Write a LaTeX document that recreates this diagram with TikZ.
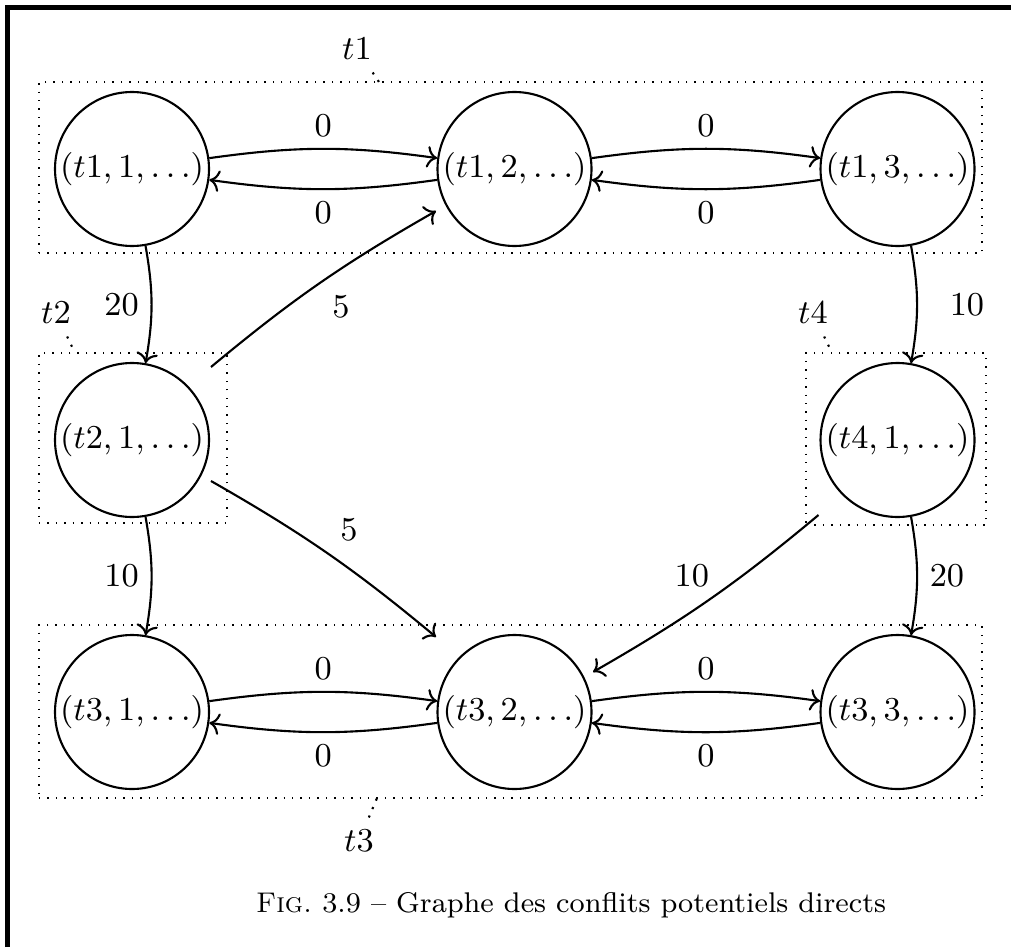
\RequirePackage{fix-cm}
\documentclass[tikz,border=0pt]{standalone}
\usepackage{amsmath,amssymb}
\usepackage{tikz}
\usetikzlibrary{arrows.meta}

\begin{document}
\begin{tikzpicture}[auto, semithick, font=\fontsize{9.5}{11.4}\selectfont]
    \tikzstyle{node_style} = [circle,draw=black,minimum size=1.54cm,inner sep=0pt]
    \tikzstyle{group_style} = [rectangle,draw=black,dotted,thin,inner sep=0pt]
    \tikzstyle{edge_style} = [draw=black,->,semithick]
    \tikzstyle{pin_style} = [draw=black,dotted,semithick]
    \useasboundingbox (0,0) rectangle (10.11,-9.47);
    \draw[line width=1.2pt] (0.075,-9.47) -- (0.075,-0.075) -- (10.11,-0.075);

    % groups
    \node[group_style, minimum width=9.43cm, minimum height=1.71cm] (g1) at (5.105,-1.675) {};
    \node[group_style, minimum width=1.88cm, minimum height=1.70cm] (g2) at (1.33,-4.38) {};
    \node[group_style, minimum width=1.80cm, minimum height=1.72cm] (g4) at (8.96,-4.39) {};
    \node[group_style, minimum width=9.43cm, minimum height=1.73cm] (g3) at (5.105,-7.115) {};

    \node[node_style] (n11) at (1.32,-1.69) {$(t1,1,\ldots)$};
    \node[node_style] (n12) at (5.145,-1.69) {$(t1,2,\ldots)$};
    \node[node_style] (n13) at (8.975,-1.69) {$(t1,3,\ldots)$};
    \node[node_style] (n21) at (1.32,-4.40) {$(t2,1,\ldots)$};
    \node[node_style] (n41) at (8.975,-4.40) {$(t4,1,\ldots)$};
    \node[node_style] (n31) at (1.32,-7.12) {$(t3,1,\ldots)$};
    \node[node_style] (n32) at (5.145,-7.12) {$(t3,2,\ldots)$};
    \node[node_style] (n33) at (8.975,-7.12) {$(t3,3,\ldots)$};

    \node (l1) at (3.57,-0.49) {$t1$};
    \node (l2) at (0.56,-3.13) {$t2$};
    \node (l4) at (8.13,-3.13) {$t4$};
    \node (l3) at (3.59,-8.41) {$t3$};
    \coordinate (p1) at (3.79,-0.82);
    \coordinate (p2) at (0.75,-3.53);
    \coordinate (p4) at (8.32,-3.53);
    \coordinate (p3) at (3.77,-7.98);
    \draw[pin_style] (l1) -- (p1);
    \draw[pin_style] (l2) -- (p2);
    \draw[pin_style] (l4) -- (p4);
    \draw[pin_style] (l3) -- (p3);

    \draw[edge_style] (n11) to[bend left=8] node[above] {$0$} (n12);
    \draw[edge_style] (n12) to[bend left=8] node[below] {$0$} (n11);
    \draw[edge_style] (n12) to[bend left=8] node[above] {$0$} (n13);
    \draw[edge_style] (n13) to[bend left=8] node[below] {$0$} (n12);
    \draw[edge_style] (n31) to[bend left=8] node[above] {$0$} (n32);
    \draw[edge_style] (n32) to[bend left=8] node[below] {$0$} (n31);
    \draw[edge_style] (n32) to[bend left=8] node[above] {$0$} (n33);
    \draw[edge_style] (n33) to[bend left=8] node[below] {$0$} (n32);

    \draw[edge_style] (n11) to[bend left=10] node[left] {$20$} (n21);
    \draw[edge_style] (n13) to[bend left=10] node[right, xshift=0.2cm] {$10$} (n41);
    \draw[edge_style] (n21) to[bend left=10] node[left] {$10$} (n31);
    \draw[edge_style] (n41) to[bend left=10] node[right] {$20$} (n33);

    \draw[edge_style] ([shift={(0.79,0.73)}]n21.center) to[bend left=5] node[below right] {$5$} ([shift={(-0.785,-0.42)}]n12.center);
    \draw[edge_style] ([shift={(0.79,-0.41)}]n21.center) to[bend left=5] node[above right] {$5$} ([shift={(-0.785,0.75)}]n32.center);
    \draw[edge_style] ([shift={(-0.79,-0.75)}]n41.center) to[bend left=5] node[above left, xshift=0.12cm] {$10$} ([shift={(0.785,0.40)}]n32.center);

    \node[font=\fontsize{8.1}{10}\selectfont] (cap) at (5.71,-9.05) {\textsc{Fig.}~3.9 -- Graphe des conflits potentiels directs};
\end{tikzpicture}
\end{document}
